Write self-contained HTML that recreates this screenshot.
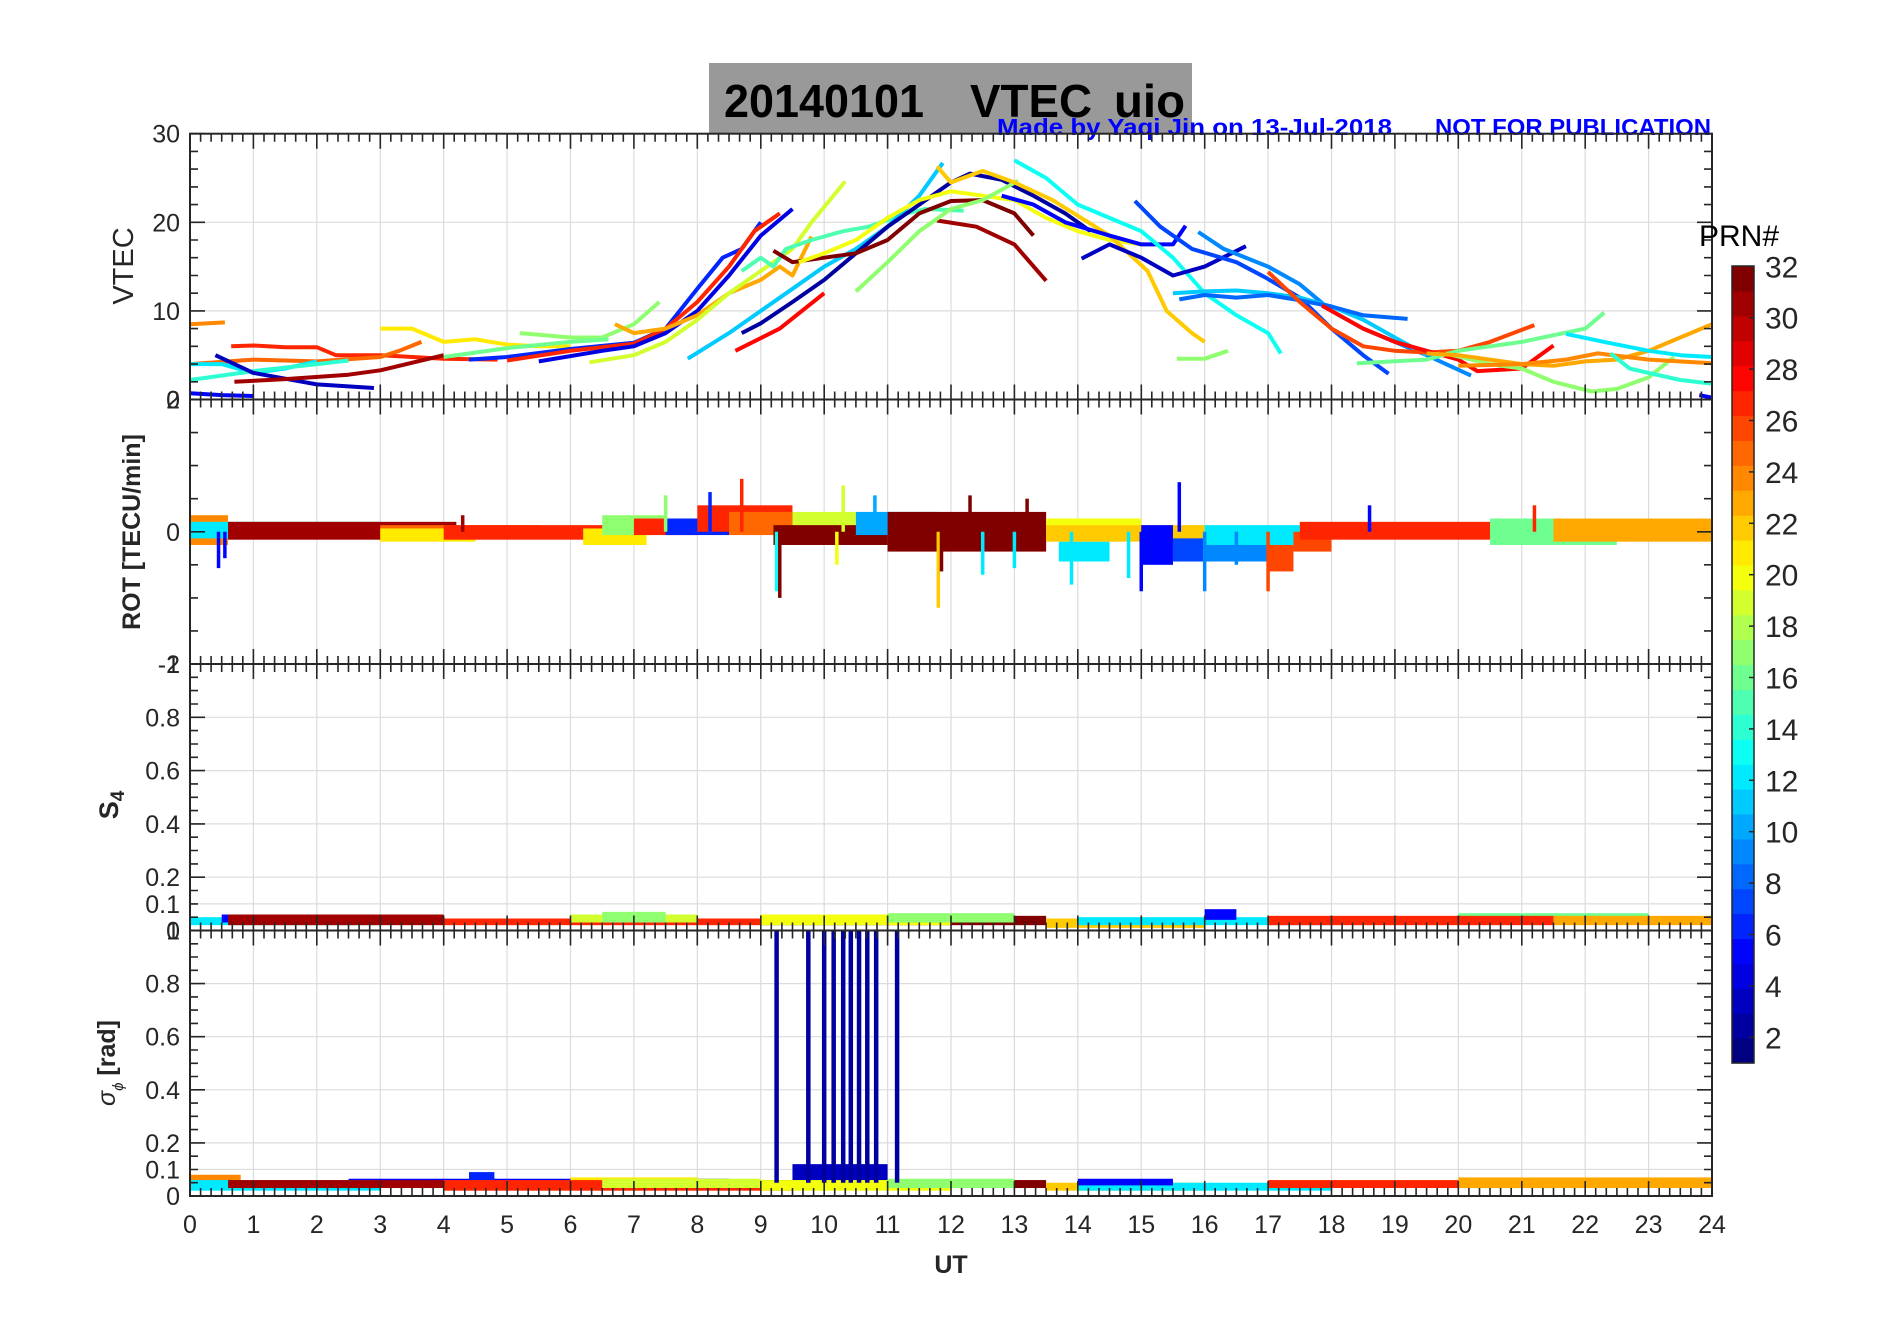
<!DOCTYPE html>
<html><head><meta charset="utf-8"><title>VTEC uio 20140101</title>
<style>html,body{margin:0;padding:0;background:#fff}svg{display:block}text{font-family:"Liberation Sans",sans-serif}</style>
</head><body>
<svg id="fig" xmlns="http://www.w3.org/2000/svg" width="1902" height="1330" viewBox="0 0 1902 1330">
<rect x="0" y="0" width="1902" height="1330" fill="#fff"/>
<rect x="709" y="63" width="483" height="70" fill="#999999"/>
<text x="724" y="117" font-size="46" font-weight="bold" fill="#000" textLength="200" lengthAdjust="spacingAndGlyphs">20140101</text>
<text x="970" y="117" font-size="46" font-weight="bold" fill="#000" textLength="122" lengthAdjust="spacingAndGlyphs">VTEC</text>
<text x="1114" y="117" font-size="46" font-weight="bold" fill="#000" textLength="71" lengthAdjust="spacingAndGlyphs">uio</text>
<text x="997" y="135" font-size="23" font-weight="bold" fill="#0000ff" textLength="395" lengthAdjust="spacingAndGlyphs">Made by Yaqi Jin on 13-Jul-2018</text>
<text x="1435" y="135" font-size="23" font-weight="bold" fill="#0000ff" textLength="276" lengthAdjust="spacingAndGlyphs">NOT FOR PUBLICATION</text>
<g id="plots"></g>
</svg>
<script>
// ---------- DATA ----------
const xTickLabels = ["0","1","2","3","4","5","6","7","8","9","10","11","12","13","14","15","16","17","18","19","20","21","22","23","24"];
const vtecTicks = [0,10,20,30];
const rotTicks = [-2,0,2];
const s4Ticks = [0,0.1,0.2,0.4,0.6,0.8,1];
const cbarTicks = [2,4,6,8,10,12,14,16,18,20,22,24,26,28,30,32];

const vtecPrn = [24,27,25,12,14,3,5,31,21,17,16,6,27,4,23,19,15,11,2,28,32,31,20,17,22,5,13,3,7,9,11,8,26,28,16,17,23,24,12,14,5,17];
const vtecHours = [
 [0,0.55],
 [0.65,1,1.5,2,2.3,3,4,4.85],
 [0,1,2,3,3.3,3.65],
 [0,0.5,1,1.5,2],
 [0,1,2,2.5],
 [0.4,1,2,2.9],
 [0,0.5,1],
 [0.7,1.5,2.5,3,4],
 [3,3.5,4,4.5,5,5.5,6],
 [5.2,6,6.5,7,7.4],
 [4,5,6,6.6],
 [4.4,5,6,7,7.5,8,8.4,8.7,9.0],
 [5,6,7,7.5,8,8.5,8.9,9.3],
 [5.5,6.5,7,7.5,8,8.5,9,9.5],
 [6.7,7,7.5,8,8.5,9,9.3,9.5,9.8],
 [6.3,7,7.5,8,8.5,9,9.5,9.8,10.33],
 [8.7,9.0,9.2,9.4,9.8,10.3,10.7,11.3,11.6,12.2],
 [7.85,8.5,9,9.5,10,10.5,11,11.5,11.87],
 [8.7,9,9.5,10,10.5,11,11.5,12,12.3,12.8,13.3,13.8,14.2],
 [8.6,9.3,10],
 [9.2,9.5,10,10.5,11,11.5,12,12.5,13,13.3],
 [11.78,12.4,13,13.5],
 [9.6,10,10.5,11,11.5,12,12.5,13,13.5,14,14.5,15,15.3],
 [10.5,11,11.5,12,12.5,13.06],
 [11.78,12,12.5,13,13.6,14.5,15.1,15.4,15.8,16.0],
 [12.8,13.3,13.8,14.5,15,15.5,15.7],
 [13,13.5,14,14.5,15,15.5,16,16.5,17,17.2],
 [14.06,14.5,15,15.5,16,16.65],
 [14.9,15.3,15.8,16.5,16.95,17.5,18,18.5,18.9],
 [15.9,16.3,17,17.5,18,18.5,19,19.5,20.2],
 [15.5,16,16.5,17,17.5,18,18.5,19,19.5],
 [15.6,16,16.5,17,17.5,18,18.5,19.2],
 [17.0,17.5,18,18.5,19,19.5,20,20.5,21.2],
 [17.85,18.5,19,19.5,20,20.3,21,21.5],
 [18.4,19.5,20,21,22,22.3],
 [19.8,20.5,21,21.5,22.1,22.5,23,23.4],
 [19.5,20,20.5,21,21.5,22,22.5,23,23.5,24],
 [20.0,21,21.7,22.2,23,24],
 [21.7,22.3,23,23.5,24],
 [22.4,22.7,23,23.5,24],
 [23.8,24],
 [15.56,16,16.37]
];
const vtecValues = [
 [8.5,8.7],
 [6,6.1,5.9,5.9,5.0,5.0,4.6,4.5],
 [4,4.5,4.3,4.8,5.5,6.5],
 [4,4,3,3.5,4.3],
 [2.2,3.2,4.0,4.4],
 [5,3,1.7,1.3],
 [0.7,0.5,0.4],
 [2,2.3,2.8,3.3,5],
 [8,8,6.5,6.8,6.2,6.0,6.0],
 [7.5,7,7,8.5,11],
 [4.8,5.8,6.5,6.8],
 [4.5,4.8,5.7,6.4,8,12.5,16,17,20],
 [4.4,5.5,6.3,8,11,15,19,21],
 [4.3,5.5,6,7.5,10,14,18.5,21.5],
 [8.5,7.5,8,9.5,12,13.5,15,14,18.4],
 [4.2,5,6.5,9,12,14.5,17,20,24.6],
 [14.5,16,15,17,18,19,19.5,21,21.5,21.3],
 [4.6,7.5,10,12.5,15,17,19.5,23,26.7],
 [7.5,8.6,11,13.5,16.5,19.5,22,24.5,25.5,24.8,23,21,19],
 [5.5,8,12],
 [16.8,15.5,16,16.5,18,21,22.4,22.5,21,18.5],
 [20.2,19.5,17.5,13.4],
 [15.5,16.5,18,20.5,22.5,23.5,23,22.5,20.5,19,18,17.5,17.5],
 [12.2,15.5,19,21.5,22.5,24.7],
 [26.3,24.5,25.8,24.5,22.5,18.5,14.5,10,7.5,6.5],
 [23,22,20,18.5,17.5,17.5,19.6],
 [27,25,22,20.5,19,16,12,9.5,7.5,5.2],
 [15.9,17.5,16,14,15,17.3],
 [22.4,19.5,17,15.5,13.8,11.5,8,5,2.9],
 [18.9,17,15,13,10,8,6.5,5,2.7],
 [12,12.2,12.3,12,11.5,10.5,9,7,5],
 [11.3,11.8,11.5,11.8,11.2,10.5,9.5,9.1],
 [14.4,11,8,6,5.5,5.3,5.5,6.5,8.4],
 [10.6,8,6.5,5.5,4.5,3.2,3.5,6.1],
 [4.1,4.5,5.5,6.5,8,9.8],
 [5.2,4,3.5,2,0.9,1.2,2.5,4.8],
 [5.2,5,4.5,4,3.8,4.3,4.5,5.5,7,8.5],
 [3.8,4,4.5,5.2,4.5,4.1],
 [7.4,6.5,5.5,5,4.8],
 [5.2,3.5,3,2.2,1.8],
 [0.5,0.2],
 [4.6,4.6,5.5]
];

const rotPrn   = [24,12,31,25,21,27,21,17,27,6,27,25,19,32,10,32,20,12,22,5,7,9,12,26,26,27,16,23];
const rotStart = [0,0,0.6,3,3,4,6.2,6.5,7,7.5,8,8.5,9.5,9.2,10.5,11,13.5,13.7,13.5,15,15.5,16,16,17,17.4,17.5,20.5,21.5];
const rotEnd   = [0.6,3,4.2,5.5,4.5,7,7.2,7.5,8,8.5,9.5,9.5,10.5,11,11.8,13.5,15,14.5,16,15.5,16.2,17,17.5,17.4,18,21.5,22.5,24];
const rotHi    = [0.25,0.15,0.15,0.1,0.05,0.1,0.05,0.25,0.2,0.2,0.4,0.3,0.3,0.1,0.3,0.3,0.2,-0.15,0.1,0.1,-0.1,0,0.1,-0.2,0,0.15,0.2,0.2];
const rotLo    = [-0.2,-0.1,-0.12,-0.1,-0.15,-0.12,-0.2,-0.05,-0.05,-0.05,0,-0.05,0,-0.2,-0.05,-0.3,-0.1,-0.45,-0.15,-0.5,-0.45,-0.45,-0.2,-0.6,-0.3,-0.12,-0.2,-0.15];
const rotSpikeHours = [0.45,0.55,9.25,9.3,10.2,10.3,8.7,11.8,11.85,12.5,13.0,13.2,15.6,15.0,16.0,17.0,21.2,18.6,4.3,7.5,8.2,10.8,12.3,14.8,13.9,16.5];
const rotSpikeValue = [-0.55,-0.4,-0.9,-1.0,-0.5,0.7,0.8,-1.15,-0.6,-0.65,-0.55,0.5,0.75,-0.9,-0.9,-0.9,0.4,0.4,0.25,0.55,0.6,0.55,0.55,-0.7,-0.8,-0.5];
const rotSpikePrn   = [5,5,13,32,20,19,27,22,32,12,12,32,5,5,9,26,27,5,31,17,6,10,32,12,12,9];

const s4Prn   = [12,5,31,27,19,17,32,20,17,22,12,5,16,27,23];
const s4Start = [0,0.5,0.6,4,6,6.5,9,9,11,13.5,14,16,20,17,21.5];
const s4End   = [3,3,4,9,8,7.5,13.5,12,13,16,18,16.5,23,21.5,24];
const s4Hi    = [0.05,0.06,0.06,0.045,0.06,0.07,0.055,0.06,0.065,0.045,0.05,0.08,0.065,0.055,0.055];
const s4Lo    = [0.02,0.03,0.02,0.02,0.03,0.03,0.02,0.02,0.03,0.01,0.02,0.04,0.03,0.02,0.02];

const sigPrn   = [24,5,12,31,6,21,27,19,3,32,20,17,22,12,5,27,16,23];
const sigStart = [0,2.5,0,0.6,4.4,6,4,6.5,9.5,9,9,11,13.5,14,14,17,20,20];
const sigEnd   = [0.8,8.5,3,4,4.8,8,9.5,9,11,13.5,12,13,16,18,15.5,21.5,23,24];
const sigHi    = [0.08,0.065,0.06,0.06,0.09,0.07,0.06,0.065,0.12,0.06,0.06,0.065,0.05,0.05,0.065,0.06,0.06,0.07];
const sigLo    = [0.03,0.04,0.02,0.03,0.05,0.03,0.02,0.03,0.06,0.03,0.02,0.03,0.02,0.02,0.04,0.03,0.03,0.03];
const sigSpikeHours = [9.25,9.75,10.0,10.15,10.3,10.42,10.55,10.68,10.82,11.15];
const sigSpikeValue = [1.05,1.05,1.05,1.05,1.05,1.05,1.05,1.05,1.05,1.05];

// ---------- LAYOUT ----------
const NS = "http://www.w3.org/2000/svg";
const g = document.getElementById("plots");
const L = 190, R = 1712;
const panels = [
  {name:"vtec", top:133.7, bot:399.5, min:0, max:30},
  {name:"rot", top:399.5, bot:664, min:-2, max:2},
  {name:"s4", top:664, bot:930.5, min:0, max:1},
  {name:"sigma", top:930.5, bot:1196, min:0, max:1}
];
function xs(h){ return L + (h/24)*(R-L); }
function ys(p,v){ return p.bot - (v-p.min)/(p.max-p.min)*(p.bot-p.top); }
function jet(prn){
  const t = (prn-1)/31;
  const c = v => Math.round(255*Math.max(0,Math.min(1,v)));
  return "rgb("+c(1.5-Math.abs(4*t-3))+","+c(1.5-Math.abs(4*t-2))+","+c(1.5-Math.abs(4*t-1))+")";
}
function mk(tag, attrs, parent){
  const e = document.createElementNS(NS, tag);
  for (const k in attrs) e.setAttribute(k, attrs[k]);
  (parent||g).appendChild(e);
  return e;
}

// grids
panels.forEach(p => {
  for (let h=1; h<24; h++){
    const gl = mk("line",{x1:xs(h),x2:xs(h),y1:p.top,y2:p.bot,stroke:"#dcdcdc","stroke-width":1.2});
    
    
  }
  let yt = p.name==="vtec" ? [10,20] : p.name==="rot" ? [] : [0.1,0.2,0.4,0.6,0.8];
  yt.forEach(v => {
    const gl = mk("line",{x1:L,x2:R,y1:ys(p,v),y2:ys(p,v),stroke:"#dcdcdc","stroke-width":1.2});
    
    
  });
});

// clip paths
const defs = mk("defs",{});
panels.forEach(p => {
  const cp = mk("clipPath",{id:"clip-"+p.name},defs);
  mk("rect",{x:L,y:p.top,width:R-L,height:p.bot-p.top},cp);
});

// VTEC lines
const pv = panels[0];
const gv = mk("g",{"clip-path":"url(#clip-vtec)"});


vtecPrn.forEach((prn,i) => {
  const pts = vtecHours[i].map((h,j) => xs(h).toFixed(1)+","+ys(pv,vtecValues[i][j]).toFixed(1)).join(" ");
  const pl = mk("polyline",{points:pts,fill:"none",stroke:jet(prn),"stroke-width":4,"stroke-linejoin":"round","stroke-linecap":"butt"},gv);
  
  
});

// band drawer
function bands(p, prns, starts, ends, his, los, label){
  const gg = mk("g",{"clip-path":"url(#clip-"+p.name+")"});
  
  
  prns.forEach((prn,i) => {
    const x1 = xs(starts[i]), x2 = xs(ends[i]);
    const y1 = ys(p,his[i]), y2 = ys(p,los[i]);
    const r = mk("rect",{x:x1,y:Math.min(y1,y2),width:Math.max(2,x2-x1),height:Math.max(3,Math.abs(y2-y1)),fill:jet(prn)},gg);
    
    
  });
  return gg;
}
const grot = bands(panels[1], rotPrn, rotStart, rotEnd, rotHi, rotLo, "rot");
rotSpikeHours.forEach((h,i) => {
  const ln = mk("line",{x1:xs(h),x2:xs(h),y1:ys(panels[1],0),y2:ys(panels[1],rotSpikeValue[i]),stroke:jet(rotSpikePrn[i]),"stroke-width":3.5},grot);
  
  
});
bands(panels[2], s4Prn, s4Start, s4End, s4Hi, s4Lo, "s4");
const gsig = bands(panels[3], sigPrn, sigStart, sigEnd, sigHi, sigLo, "sigma");
sigSpikeHours.forEach((h,i) => {
  const ln = mk("line",{x1:xs(h),x2:xs(h),y1:ys(panels[3],0.05),y2:ys(panels[3],sigSpikeValue[i]),stroke:jet(2),"stroke-width":4.5},gsig);
  
  
});

// axes, ticks
panels.forEach(p => {
  const box = mk("rect",{x:L,y:p.top,width:R-L,height:p.bot-p.top,fill:"none",stroke:"#262626","stroke-width":2});
  
  
  let d = "";
  for (let k=0; k<=144; k++){
    const x = xs(k/6).toFixed(1);
    const len = k%6===0 ? 15 : 8;
    d += "M"+x+","+p.bot+"v-"+len+"M"+x+","+p.top+"v"+len;
  }
  let step = p.name==="vtec" ? 2 : p.name==="rot" ? 0.5 : 0.05;
  for (let v=p.min; v<=p.max+1e-9; v+=step){
    const y = ys(p,v).toFixed(1);
    const major = p.name==="vtec" ? Math.abs(v%10)<1e-6 : p.name==="rot" ? Math.abs(v%2)<1e-6 : Math.abs(v*10-Math.round(v*10))<1e-6 && Math.round(v*10)%2===0;
    const len = major ? 15 : 8;
    d += "M"+L+","+y+"h"+len+"M"+R+","+y+"h-"+len;
  }
  const tk = mk("path",{d:d,stroke:"#262626","stroke-width":1.6,fill:"none"});
  
  
  const yt = p.name==="vtec" ? vtecTicks : p.name==="rot" ? rotTicks : s4Ticks;
  yt.forEach(v => {
    const t = mk("text",{x:L-10,y:ys(p,v)+9,"font-size":25,fill:"#262626","text-anchor":"end"});
    t.textContent = String(v);
    
    
  });
});
xTickLabels.forEach((lab,i) => {
  const t = mk("text",{x:xs(i),y:1233,"font-size":25,fill:"#262626","text-anchor":"middle"});
  t.textContent = lab;
  
  
});

// axis titles
function vtext(txt, x, y, size, bold, name){
  const t = mk("text",{x:0,y:0,"font-size":size,"font-weight":bold?"bold":"normal",fill:"#262626","text-anchor":"middle",transform:"translate("+x+","+y+") rotate(-90)"});
  t.textContent = txt;
  
  
  return t;
}
vtext("VTEC", 133, 266, 29, false, "vtec-y-axis-title");
vtext("ROT [TECU/min]", 140, 532, 25, true, "rot-y-axis-title");
const s4t = vtext("S", 118, 805, 27, true, "s4-y-axis-title");
const s4sub = mk("tspan",{"font-size":19,dy:6},s4t); s4sub.textContent = "4";
const sgt = vtext("", 115, 1063, 25, true, "sigma-y-axis-title");
const sg1 = mk("tspan",{"font-style":"italic","font-weight":"normal"},sgt); sg1.textContent = "σ";
const sg2 = mk("tspan",{"font-size":15,"font-style":"italic","font-weight":"normal",dy:8},sgt); sg2.textContent = "ϕ";
const sg3 = mk("tspan",{dy:-8},sgt); sg3.textContent = " [rad]";
const ut = mk("text",{x:951,y:1273,"font-size":25,"font-weight":"bold",fill:"#262626","text-anchor":"middle"});
ut.textContent = "UT";



// colorbar
const cbTop = 266, cbBot = 1063, cbL = 1732, cbW = 22;
const cg = mk("g",{});


for (let prn=1; prn<=32; prn++){
  const h = (cbBot-cbTop)/32;
  const r = mk("rect",{x:cbL,y:cbBot-prn*h,width:cbW,height:h+0.6,fill:jet(prn)},cg);
  
  
}
const cbox = mk("rect",{x:cbL,y:cbTop,width:cbW,height:cbBot-cbTop,fill:"none",stroke:"#262626","stroke-width":1.5},cg);


cbarTicks.forEach(v => {
  const y = cbBot - (v-1)*25.7;
  const tl = mk("line",{x1:cbL+cbW-5,x2:cbL+cbW,y1:y,y2:y,stroke:"#262626","stroke-width":1.5},cg);
  
  
  const t = mk("text",{x:1765,y:y+11,"font-size":30,fill:"#262626"},cg);
  t.textContent = String(v);
  
  
});
const prnT = mk("text",{x:1699,y:246,"font-size":30,fill:"#000"});
prnT.textContent = "PRN#";


</script>
</body></html>
